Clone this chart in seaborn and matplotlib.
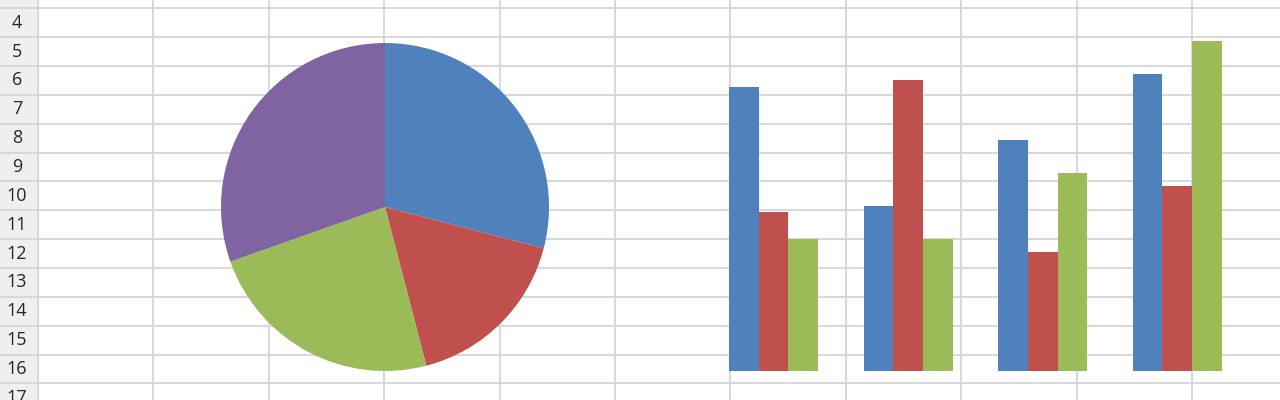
import numpy as np
import pandas as pd
import seaborn as sns
import matplotlib.pyplot as plt

# dados do gráfico (amostra padrão do Excel)
categorias = ["Category 1", "Category 2", "Category 3", "Category 4"]
serie_1 = [4.3, 2.5, 3.5, 4.5]
serie_2 = [2.4, 4.4, 1.8, 2.8]
serie_3 = [2.0, 2.0, 3.0, 5.0]
nomes_series = ["Series 1", "Series 2", "Series 3"]

fatias_pizza = [4.3, 2.5, 3.5, 4.5]
linhas_planilha = list(range(3, 18))

cores = ["#4F81BD", "#C0504D", "#9BBB59", "#8064A2"]

sns.set_theme(style="white")
plt.rcParams['font.family'] = ['Open Sans', 'DejaVu Sans']

W, H = 1280, 400
fig = plt.figure(figsize=(W / 100, H / 100), dpi=100)

# fundo: grade da planilha em pixels
bg = fig.add_axes([0, 0, 1, 1])
bg.set_xlim(0, W)
bg.set_ylim(H, 0)
bg.set_axis_off()

cab_largura = 38
linha_topo = 8.3
linha_alt = 28.85
col_larg = 115.4

bg.fill_between([0, cab_largura], 0, H, color="#efefef", zorder=0)
grade = "#d6d6d6"
for k in range(-1, 16):
    bg.axhline(linha_topo + k * linha_alt, color=grade, lw=1.3, zorder=1)
for k in range(0, 12):
    bg.axvline(cab_largura + k * col_larg, color=grade, lw=1.3, zorder=1)

# números das linhas (3 e 17 ficam cortados na borda, como no original)
for n in linhas_planilha:
    yc = linha_topo + (n - 4) * linha_alt + linha_alt / 2
    bg.text(17, yc, str(n), ha="center", va="center", fontsize=13,
            color="#262626", clip_on=True)

# gráfico de pizza
cx, cy, r = 385, 207, 164
ax_pie = fig.add_axes([(cx - r) / W, (H - cy - r) / H, 2 * r / W, 2 * r / H])
ax_pie.patch.set_alpha(0)
ax_pie.pie(fatias_pizza, colors=cores, startangle=90, counterclock=False,
           radius=1, wedgeprops=dict(linewidth=0))
ax_pie.set_xlim(-1, 1)
ax_pie.set_ylim(-1, 1)
ax_pie.set_axis_off()

# gráfico de colunas agrupadas
df = pd.DataFrame({
    "categoria": categorias * 3,
    "serie": np.repeat(nomes_series, len(categorias)),
    "valor": serie_1 + serie_2 + serie_3,
})

base_y = 370.7
px_por_unidade = 66
passo = 134.6
centro_0 = 773.5
ymax = 5.5
x_esq = centro_0 - 0.5 * passo
ax_bar = fig.add_axes([x_esq / W, (H - base_y) / H, 4 * passo / W,
                       ymax * px_por_unidade / H])
ax_bar.patch.set_alpha(0)
sns.barplot(data=df, x="categoria", y="valor", hue="serie", palette=cores[:3],
            width=0.66, linewidth=0, saturation=1, legend=False, ax=ax_bar)
ax_bar.set_xlim(-0.5, 3.5)
ax_bar.set_ylim(0, ymax)
ax_bar.set_axis_off()

fig.savefig("out.png", dpi=100)
